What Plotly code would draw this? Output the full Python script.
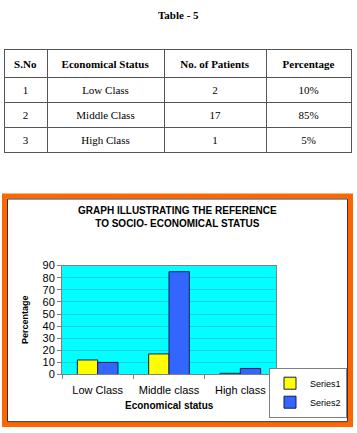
import plotly.graph_objects as go

# Table data
sno = ["1", "2", "3"]
status = ["Low Class", "Middle Class", "High Class"]
patients = ["2", "17", "1"]
percent = ["10%", "85%", "5%"]
headers = ["S.No", "Economical Status", "No. of Patients", "Percentage"]

# Chart data
categories = ["Low Class", "Middle class", "High class"]
series1 = [12, 17, 1]
series2 = [10, 85, 5]
yticks = [0, 10, 20, 30, 40, 50, 60, 70, 80, 90]

W, H = 357, 433
def px(x):
    return x / W
def py(y):
    return 1 - y / H

serif = "Liberation Serif, Times New Roman, serif"
sans = "Liberation Sans, Arial, sans-serif"

fig = go.Figure()

fig.add_trace(go.Table(
    domain=dict(x=[px(4), px(351)], y=[py(165), py(45)]),
    columnwidth=[43, 117, 102, 85],
    header=dict(values=["<b>%s</b>" % h for h in headers],
                fill_color="white", line=dict(color="#555555", width=1),
                font=dict(family=serif, size=11, color="black"),
                align="center", height=25),
    cells=dict(values=[sno, status, patients, percent],
               fill_color="white", line=dict(color="#555555", width=1),
               font=dict(family=serif, size=11, color="black"),
               align="center", height=25),
))

fig.add_trace(go.Bar(name="Series1", x=categories, y=series1,
                     marker=dict(color="#FFFF00", line=dict(color="#1a1a50", width=1))))
fig.add_trace(go.Bar(name="Series2", x=categories, y=series2,
                     marker=dict(color="#3366FF", line=dict(color="#1a1a50", width=1))))

fig.update_layout(
    width=W, height=H,
    margin=dict(l=0, r=0, t=0, b=0),
    paper_bgcolor="white",
    plot_bgcolor="#00FFFF",
    barmode="group",
    bargap=0.43,
    bargroupgap=0,
    showlegend=True,
    legend=dict(x=px(347), y=py(372), xanchor="right", yanchor="top",
                bgcolor="white", bordercolor="#808080", borderwidth=1,
                font=dict(family=sans, size=9, color="black"),
                itemwidth=30, tracegroupgap=0),
    xaxis=dict(domain=[px(62), px(276)], type="category",
               showline=True, mirror=True, linecolor="#808080", linewidth=1,
               ticks="outside", tickson="boundaries", ticklen=4, tickcolor="#808080",
               tickangle=0, ticklabelstandoff=5,
               tickfont=dict(family=sans, size=11, color="black"),
               showgrid=False, anchor="y"),
    yaxis=dict(domain=[py(379), py(267)], range=[0, 90], tickvals=yticks,
               showline=True, mirror=True, linecolor="#808080", linewidth=1,
               ticks="outside", ticklen=4, tickcolor="#808080",
               tickfont=dict(family=sans, size=11, color="black"),
               showgrid=True, gridcolor="#20CCDD", gridwidth=1,
               zeroline=False, anchor="x"),
    shapes=[
        dict(type="rect", xref="paper", yref="paper",
             x0=px(4.5), x1=px(350.5), y0=py(430.5), y1=py(195.5),
             line=dict(color="#FF6600", width=5), layer="below"),
        dict(type="rect", xref="paper", yref="paper",
             x0=px(7.5), x1=px(347.5), y0=py(427.5), y1=py(198.5),
             line=dict(color="#333333", width=1), layer="below"),
    ],
    annotations=[
        dict(text="<b>Table - 5</b>", x=px(178), y=py(9), xref="paper", yref="paper",
             xanchor="center", yanchor="middle",
             showarrow=False, font=dict(family=serif, size=11, color="black")),
        dict(text="<b>GRAPH ILLUSTRATING THE REFERENCE<br>TO SOCIO- ECONOMICAL STATUS</b>",
             x=px(177), y=py(217.5), xref="paper", yref="paper", showarrow=False,
             xanchor="center", yanchor="middle",
             font=dict(family=sans, size=10, color="black")),
        dict(text="<b>Economical status</b>", x=px(169), y=py(411), xref="paper", yref="paper",
             xanchor="center", yanchor="middle",
             showarrow=False, font=dict(family=sans, size=10, color="black")),
        dict(text="<b>Percentage</b>", x=px(25), y=py(323), xref="paper", yref="paper",
             xanchor="center", yanchor="middle",
             showarrow=False, textangle=-90, font=dict(family=sans, size=9, color="black")),
    ],
)

fig.write_html("out.html")
